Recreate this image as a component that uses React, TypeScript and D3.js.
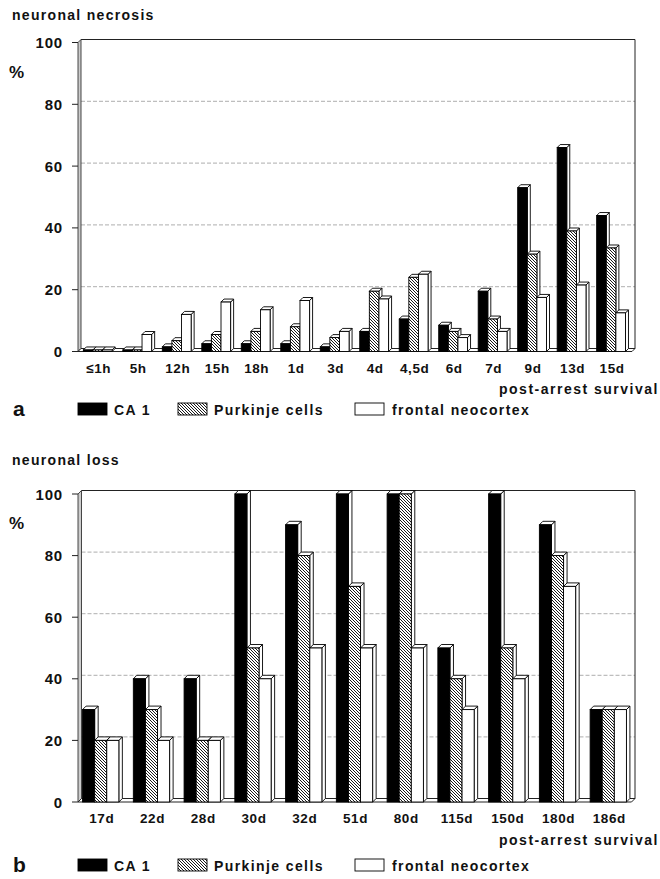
import React from "react";
import * as d3 from "d3";

// ---------- data ----------
const catsA = ["≤1h", "5h", "12h", "15h", "18h", "1d", "3d", "4d", "4,5d", "6d", "7d", "9d", "13d", "15d"];
const ca1A = [0.5, 0.5, 1.5, 2.5, 2.5, 2.5, 1.5, 6.5, 10.5, 8.5, 19.5, 53, 66, 44];
const purkA = [0.5, 0.5, 3.5, 5.5, 6.5, 8, 4.5, 19.5, 24, 6.5, 10.5, 31.5, 39, 33.5];
const frontA = [0.5, 5.5, 12, 16, 13.5, 16.5, 6.5, 17, 25, 4.5, 6.5, 17.5, 21.5, 12.5];

const catsB = ["17d", "22d", "28d", "30d", "32d", "51d", "80d", "115d", "150d", "180d", "186d"];
const ca1B = [30, 40, 40, 100, 90, 100, 100, 50, 100, 90, 30];
const purkB = [20, 30, 20, 50, 80, 70, 100, 40, 50, 80, 30];
const frontB = [20, 20, 20, 40, 50, 50, 50, 30, 40, 70, 30];

const yTicks = [0, 20, 40, 60, 80, 100];
const seriesNames = ["CA 1", "Purkinje cells", "frontal neocortex"];
const xTitle = "post-arrest survival";

// ---------- style ----------
const FONT = "'Liberation Sans', Arial, Helvetica, sans-serif";
const fills = ["#000", "url(#hatch)", "#fff"];

type PanelProps = {
  cats: string[];
  series: number[][];
  title: string;
  letter: string;
  yTop: number; // pixel of 100
  yZero: number; // pixel of 0
  d: number;
  padOuter: number;
  padInner: number;
  titleY: number;
  xLabelY: number;
  xTitleX: number;
  xTitleY: number;
  legendY: number;
};

function Panel(p: PanelProps) {
  const x0 = 78;
  const xR = 635;
  const d = p.d;
  const x = d3
    .scaleBand<string>()
    .domain(p.cats)
    .range([x0, xR - 3])
    .paddingInner(p.padInner)
    .paddingOuter(p.padOuter)
    .align(0.45);
  const y = d3.scaleLinear().domain([0, 100]).range([p.yZero, p.yTop]);
  const bw = x.bandwidth() / 3;
  const y0 = y(0);
  const yT = y(100);

  const bars: React.ReactNode[] = [];
  p.cats.forEach((c, i) => {
    p.series.forEach((ser, s) => {
      const v = ser[i];
      const bx = (x(c) as number) + s * bw;
      const by = y(v);
      const key = `${c}-${s}`;
      bars.push(
        <g key={key}>
          <polygon
            points={`${bx + bw},${by} ${bx + bw + d},${by - d} ${bx + bw + d},${y0 - d} ${bx + bw},${y0}`}
            fill="#fff"
            stroke="#000"
            strokeWidth={0.9}
            strokeLinejoin="round"
          />
          <polygon
            points={`${bx},${by} ${bx + d},${by - d} ${bx + bw + d},${by - d} ${bx + bw},${by}`}
            fill="#fff"
            stroke="#000"
            strokeWidth={0.9}
            strokeLinejoin="round"
          />
          <rect x={bx} y={by} width={bw} height={Math.max(0, y0 - by)} fill={fills[s]} stroke="#000" strokeWidth={0.9} />
        </g>
      );
    });
  });

  const legendX = [
    { sw: 78, tx: 114 },
    { sw: 178, tx: 214 },
    { sw: 355, tx: 392 },
  ];

  return (
    <g>
      <text x={12} y={p.titleY} fontFamily={FONT} fontWeight="bold" fontSize={14} letterSpacing={1.3} fill="#111">
        {p.title}
      </text>
      <text x={9} y={yT + 35} fontFamily={FONT} fontWeight="bold" fontSize={17} fill="#111">
        %
      </text>
      {/* back wall gridlines */}
      {yTicks
        .filter((t) => t > 0 && t < 100)
        .map((t) => (
          <line
            key={"g" + t}
            x1={x0 + d}
            x2={xR}
            y1={y(t) - d}
            y2={y(t) - d}
            stroke="#999"
            strokeWidth={0.8}
            strokeDasharray="4,2"
          />
        ))}
      {/* top border & right wall */}
      <line x1={x0 + d} x2={xR} y1={yT - d} y2={yT - d} stroke="#222" strokeWidth={1.1} />
      <line x1={xR} x2={xR} y1={yT - d} y2={y0 - d} stroke="#222" strokeWidth={1} />
      {/* left wall */}
      <polygon
        points={`${x0},${yT} ${x0 + d},${yT - d} ${x0 + d},${y0 - d} ${x0},${y0}`}
        fill="#ccc"
        stroke="#333"
        strokeWidth={0.9}
      />
      {/* floor */}
      <polygon
        points={`${x0},${y0} ${xR - d},${y0} ${xR},${y0 - d} ${x0 + d},${y0 - d}`}
        fill="#fff"
        stroke="#222"
        strokeWidth={1}
      />
      {/* ticks */}
      {yTicks.map((t) => (
        <g key={"t" + t}>
          <line x1={x0 - 6} x2={x0} y1={y(t)} y2={y(t)} stroke="#222" strokeWidth={1} />
          <text
            x={63}
            y={y(t) + 5.5}
            textAnchor="end"
            fontFamily={FONT}
            fontWeight="bold"
            fontSize={15}
            letterSpacing={0.8}
            fill="#111"
          >
            {t}
          </text>
        </g>
      ))}
      {bars}
      {/* category labels */}
      {p.cats.map((c) => (
        <text
          key={"c" + c}
          x={(x(c) as number) + x.bandwidth() / 2 + 1}
          y={p.xLabelY}
          textAnchor="middle"
          fontFamily={FONT}
          fontWeight="bold"
          fontSize={13.5}
          letterSpacing={0.6}
          fill="#111"
        >
          {c}
        </text>
      ))}
      <text x={p.xTitleX} y={p.xTitleY} fontFamily={FONT} fontWeight="bold" fontSize={14} letterSpacing={1.5} fill="#111">
        {xTitle}
      </text>
      {/* legend */}
      <text x={13} y={p.legendY + 1} fontFamily={FONT} fontWeight="bold" fontSize={21} fill="#111">
        {p.letter}
      </text>
      {seriesNames.map((n, s) => (
        <g key={"l" + s}>
          <rect
            x={legendX[s].sw}
            y={p.legendY - 12}
            width={29}
            height={12}
            fill={fills[s]}
            stroke="#000"
            strokeWidth={0.9}
          />
          <text
            x={legendX[s].tx}
            y={p.legendY}
            fontFamily={FONT}
            fontWeight="bold"
            fontSize={14}
            letterSpacing={1.4}
            fill="#111"
          >
            {n}
          </text>
        </g>
      ))}
    </g>
  );
}

export default function App() {
  return (
    <div style={{ position: "absolute", left: 0, top: 0 }}>
      <svg width={660} height={879} viewBox="0 0 660 879" style={{ display: "block", background: "#fff" }}>
        <defs>
          <pattern id="hatch" patternUnits="userSpaceOnUse" width={3} height={3}>
            <rect width={3} height={3} fill="#fff" />
            <path d="M-1,-1 L4,4 M-1,2 L1,4 M2,-1 L4,1" stroke="#000" strokeWidth={0.9} />
          </pattern>
        </defs>
        <rect width={660} height={879} fill="#fff" />
        <Panel
          cats={catsA}
          series={[ca1A, purkA, frontA]}
          title="neuronal necrosis"
          letter="a"
          yTop={42.5}
          yZero={351.5}
          d={3}
          padOuter={0.15}
          padInner={0.27}
          titleY={20}
          xLabelY={373}
          xTitleX={499}
          xTitleY={394}
          legendY={415}
        />
        <Panel
          cats={catsB}
          series={[ca1B, purkB, frontB]}
          title="neuronal loss"
          letter="b"
          yTop={494}
          yZero={802}
          d={3.5}
          padOuter={0.1}
          padInner={0.285}
          titleY={465}
          xLabelY={823}
          xTitleX={499}
          xTitleY={845}
          legendY={871}
        />
      </svg>
    </div>
  );
}
